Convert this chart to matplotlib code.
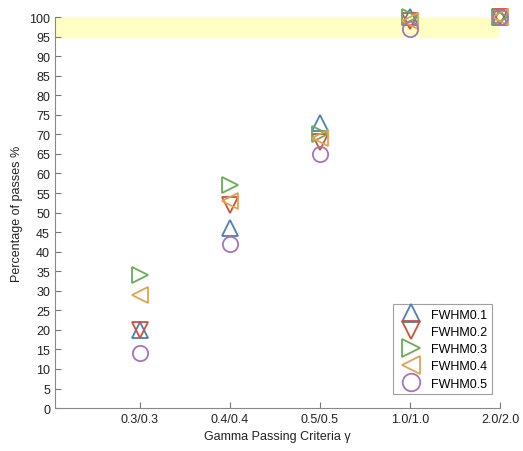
import matplotlib
matplotlib.use("Agg")
import matplotlib.pyplot as plt
import numpy as np

plt.rcParams['font.family'] = ['Liberation Sans', 'DejaVu Sans']

categories = ["0.3/0.3", "0.4/0.4", "0.5/0.5", "1.0/1.0", "2.0/2.0"]
series_names = ["FWHM0.1", "FWHM0.2", "FWHM0.3", "FWHM0.4", "FWHM0.5"]
fwhm01 = [20, 46, 73, 100, 100]
fwhm02 = [20, 52, 68, 99, 100]
fwhm03 = [34, 57, 70, 100, 100]
fwhm04 = [29, 53, 69, 99, 100]
fwhm05 = [14, 42, 65, 97, 100]
yticks = list(range(0, 101, 5))

colors = ["#4a7fb8", "#cc5238", "#6aac58", "#e3a24e", "#a673bd"]
markers = ["^", "v", ">", "<", "o"]
series = [fwhm01, fwhm02, fwhm03, fwhm04, fwhm05]

fig = plt.figure(figsize=(5.23, 4.52), dpi=100)
ax = fig.add_axes([0.105, 0.095, 0.851, 0.865])
x = np.arange(1, len(categories) + 1)

ax.axhspan(95, 100, color="#ffffc4", zorder=0)

for vals, c, m, name in zip(series, colors, markers, series_names):
    ax.plot(x, vals, linestyle="none", marker=m, markersize=11,
            markerfacecolor="none", markeredgecolor=c, markeredgewidth=1.3,
            label=name, clip_on=False)

ax.set_xlim(0.06, 5.0)
ax.set_ylim(0, 100)
ax.set_xticks(x)
ax.set_xticklabels(categories)
ax.set_yticks(yticks)
ax.tick_params(direction="in", length=4, colors="#777777", labelsize=9,
               labelcolor="#222222")
for s in ["top", "right"]:
    ax.spines[s].set_visible(False)
for s in ["left", "bottom"]:
    ax.spines[s].set_color("#888888")
ax.set_xlabel("Gamma Passing Criteria γ", fontsize=9, color="#222222")
ax.set_ylabel("Percentage of passes %", fontsize=9, color="#222222")

leg = ax.legend(loc="lower right", fontsize=9, frameon=True, fancybox=False,
                edgecolor="#888888", handletextpad=0.5, borderpad=0.35,
                labelspacing=0.42, markerscale=1.15, handlelength=2.2,
                bbox_to_anchor=(0.995, 0.02))
leg.get_frame().set_linewidth(0.8)

fig.savefig("out.png", dpi=100)
